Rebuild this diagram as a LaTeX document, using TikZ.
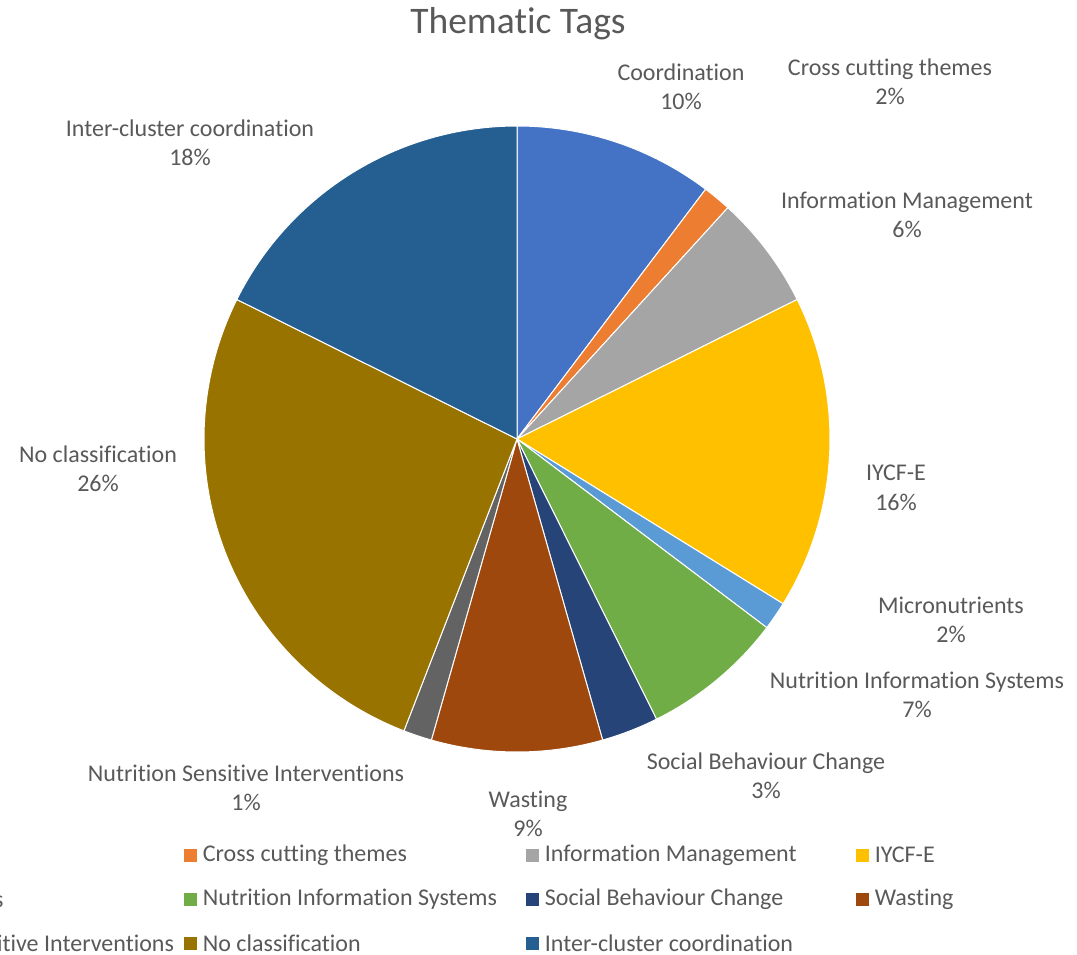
\documentclass[tikz,border=0pt]{standalone}
\usepackage{fontspec}
\setmainfont{Carlito}[Ligatures=NoCommon]
\usetikzlibrary{calc, positioning}

\definecolor{txtgray}{HTML}{595959}
\definecolor{cCoord}{HTML}{4472C4}
\definecolor{cCross}{HTML}{ED7D31}
\definecolor{cInfo}{HTML}{A5A5A5}
\definecolor{cIycf}{HTML}{FFC000}
\definecolor{cMicro}{HTML}{5B9BD5}
\definecolor{cNis}{HTML}{70AD47}
\definecolor{cSbc}{HTML}{264478}
\definecolor{cWast}{HTML}{9E480E}
\definecolor{cNsi}{HTML}{636363}
\definecolor{cNocl}{HTML}{997300}
\definecolor{cInter}{HTML}{255E91}

\begin{document}
\begin{tikzpicture}[x=1pt, y=-1pt,
    slice/.style={draw=white, line width=1pt},
    lbl/.style={text=txtgray, align=center, font=\fontsize{24}{29.5}\selectfont, inner sep=0pt},
    key/.style={minimum size=13pt, inner sep=0pt},
    keytext/.style={text=txtgray, anchor=west, font=\fontsize{24}{28}\selectfont, inner sep=0pt}]
  \path[use as bounding box] (0,0) rectangle (1077,955);
  \clip (0,0) rectangle (1077,955);

  % Title
  \node[text=txtgray, font=\fontsize{37.5}{40}\selectfont, inner sep=0pt] (title) at (518,24) {Thematic Tags};

  % Slices (counts out of 68, clockwise from the top)
  \coordinate (pie) at (517,439);
  \def\unit{5.29412}
  \foreach \a/\b/\col in {0/7/cCoord, 7/8/cCross, 8/12/cInfo, 12/23/cIycf, 23/24/cMicro,
      24/29/cNis, 29/31/cSbc, 31/37/cWast, 37/38/cNsi, 38/56/cNocl, 56/68/cInter}
    \draw[slice, fill=\col] (pie) -- ++({-90+\a*\unit}:313) arc ({-90+\a*\unit}:{-90+\b*\unit}:313) -- cycle;

  % Data labels
  \node[lbl] (lcoord) at (681,87) {Coordination\\10\%};
  \node[lbl] (lcross) at (890,82) {Cross cutting themes\\2\%};
  \node[lbl] (linfo) at (907,215) {Information Management\\6\%};
  \node[lbl] (liycf) at (896,488) {IYCF-E\\16\%};
  \node[lbl] (lmicro) at (951,620) {Micronutrients\\2\%};
  \node[lbl] (lnis) at (917,695) {Nutrition Information Systems\\7\%};
  \node[lbl] (lsbc) at (766,776) {Social Behaviour Change\\3\%};
  \node[lbl] (lwast) at (528,814) {Wasting\\9\%};
  \node[lbl] (lnsi) at (246,788) {Nutrition Sensitive Interventions\\1\%};
  \node[lbl] (lnocl) at (98,469) {No classification\\26\%};
  \node[lbl] (linter) at (190,143) {Inter-cluster coordination\\18\%};

  % Legend (first column runs off the left edge)
  \node[key, fill=cCoord] (kcoord) at (-155,855) {};
  \node[keytext, right=6pt of kcoord] {Coordination};
  \node[key, fill=cCross] (kcross) at (190,855) {};
  \node[keytext, right=6pt of kcross] {Cross cutting themes};
  \node[key, fill=cInfo] (kinfo) at (532,855) {};
  \node[keytext, right=6pt of kinfo] {Information Management};
  \node[key, fill=cIycf] (kiycf) at (862,855) {};
  \node[keytext, right=6pt of kiycf] {IYCF-E};

  \node[key, fill=cMicro] (kmicro) at (-155,899) {};
  \node[keytext, right=6pt of kmicro] {Micronutrients};
  \node[key, fill=cNis] (knis) at (190,899) {};
  \node[keytext, right=6pt of knis] {Nutrition Information Systems};
  \node[key, fill=cSbc] (ksbc) at (532,899) {};
  \node[keytext, right=6pt of ksbc] {Social Behaviour Change};
  \node[key, fill=cWast] (kwast) at (862,899) {};
  \node[keytext, right=6pt of kwast] {Wasting};

  \node[key, fill=cNsi] (knsi) at (-155,943) {};
  \node[keytext, right=6pt of knsi] {Nutrition Sensitive Interventions};
  \node[key, fill=cNocl] (knocl) at (190,943) {};
  \node[keytext, right=6pt of knocl] {No classification};
  \node[key, fill=cInter] (kinter) at (532,943) {};
  \node[keytext, right=6pt of kinter] {Inter-cluster coordination};
\end{tikzpicture}
\end{document}
